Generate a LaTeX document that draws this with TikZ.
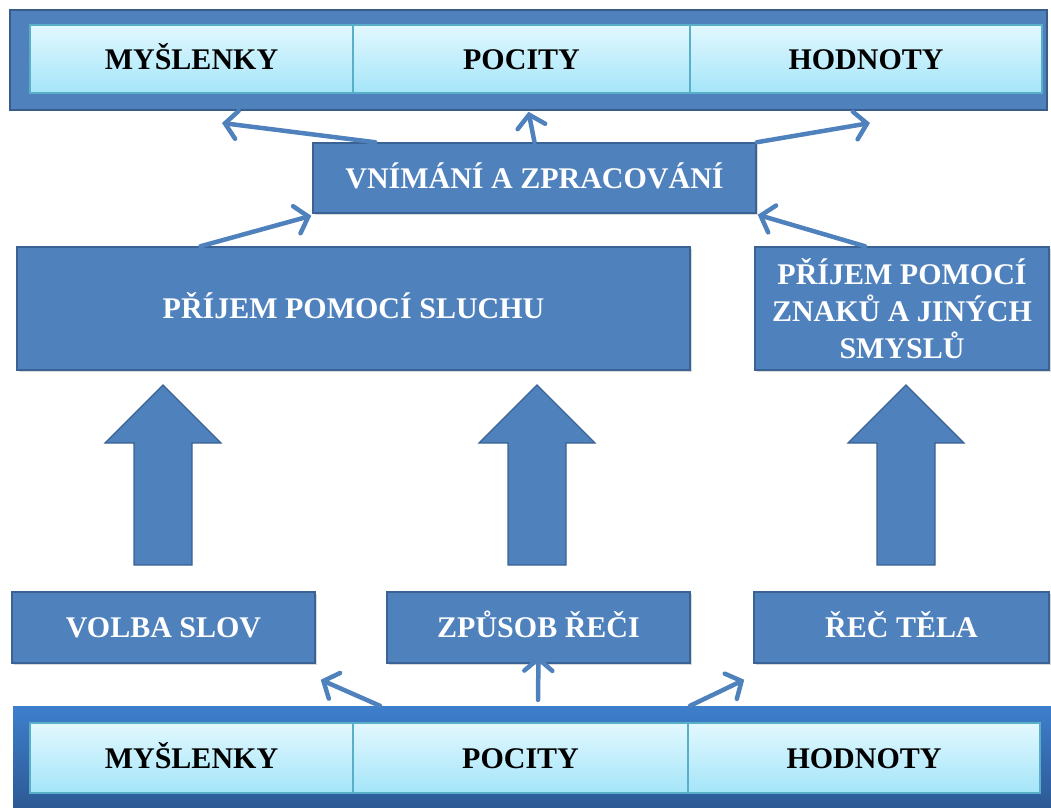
\documentclass[tikz,border=0pt]{standalone}
\usepackage{fontspec}
\setmainfont{Liberation Serif}
\usetikzlibrary{arrows.meta,calc,shadows}
\definecolor{boxblue}{HTML}{4F81BD}
\definecolor{boxedge}{HTML}{3A6294}
\definecolor{cellTop}{HTML}{E2F8FE}
\definecolor{cellBot}{HTML}{A4E5F9}
\definecolor{cellEdge}{HTML}{5AAFC8}
\definecolor{bandTop}{HTML}{3E7FCC}
\definecolor{bandBot}{HTML}{2D5A95}
\definecolor{frameEdge}{HTML}{385D8A}

% block arrow pointing up: centre x, tip y, foot y
\newcommand\blockUp[3]{%
  \draw[blockarrow] (#1-29,#3) -- (#1-29,#2+58) -- (#1-58,#2+58) -- (#1,#2)
    -- (#1+58,#2+58) -- (#1+29,#2+58) -- (#1+29,#3) -- cycle;}

\begin{document}
\begin{tikzpicture}[x=1pt,y=-1pt,
  labelfont/.style={font=\fontsize{30}{37}\selectfont\bfseries},
  oneline/.style={text height=20pt,text depth=0pt},
  softshadow/.style={drop shadow={opacity=0.3,shadow xshift=1.5pt,shadow yshift=-2pt}},
  box/.style={draw=boxedge,line width=1.5pt,fill=boxblue,text=white,labelfont,
    align=center,inner sep=0pt,softshadow},
  frame/.style={draw=frameEdge,line width=1.5pt,fill=boxblue,inner sep=0pt},
  band/.style={draw=none,top color=bandTop,bottom color=bandBot,inner sep=0pt},
  cell/.style={draw=cellEdge,line width=1.2pt,top color=cellTop,bottom color=cellBot,
    text=black,labelfont,oneline,inner sep=0pt,minimum height=68pt},
  link/.style={draw=boxblue,line width=4.5pt,line cap=round,
    -{Straight Barb[length=12pt,width=28pt,line cap=round]}},
  blockarrow/.style={draw=boxedge,line width=1.2pt,fill=boxblue,line join=miter}
]
\useasboundingbox (0,0) rectangle (1051,807);

% upper band of three headings
\node[frame,minimum width=1037pt,minimum height=100pt] (topframe) at (528.5,60) {};
\node[cell,minimum width=323pt] (t1) at (191.5,59) {MYŠLENKY};
\node[cell,minimum width=337pt] (t2) at (521.5,59) {POCITY};
\node[cell,minimum width=352pt] (t3) at (866,59) {HODNOTY};

% lower band of three headings
\node[band,minimum width=1038pt,minimum height=101pt] (botframe) at (532,756.5) {};
\node[cell,minimum width=323pt,minimum height=70pt] (b1) at (191.5,758) {MYŠLENKY};
\node[cell,minimum width=335pt,minimum height=70pt] (b2) at (520.5,758) {POCITY};
\node[cell,minimum width=352pt,minimum height=70pt] (b3) at (864,758) {HODNOTY};

% processing box
\node[box,oneline,minimum width=443pt,minimum height=70pt] (vnim) at (534.5,178) {VNÍMÁNÍ A ZPRACOVÁNÍ};

% reception boxes
\node[box,oneline,minimum width=673pt,minimum height=123pt] (sluch) at (353.5,308.5) {PŘÍJEM POMOCÍ SLUCHU};
\node[box,minimum width=294pt,minimum height=123pt] (znaky) at (902,308.5)
  {PŘÍJEM POMOCÍ\\ZNAKŮ A JINÝCH\\SMYSLŮ};

% channel boxes
\node[box,oneline,minimum width=303pt,minimum height=71pt] (volba) at (163.5,627.5) {VOLBA SLOV};
\node[box,oneline,minimum width=303pt,minimum height=71pt] (zpusob) at (538.5,627.5) {ZPŮSOB ŘEČI};
\node[box,oneline,minimum width=295pt,minimum height=71pt] (telo) at (901.5,627.5) {ŘEČ TĚLA};

% wide block arrows between channels and reception
\blockUp{163}{385}{565}
\blockUp{537}{385}{565}
\blockUp{906}{385}{565}

% free ends of the upper fan
\coordinate (upL) at (222,123);
\coordinate (upR) at (870,123);

% upper fan of thin arrows
\draw[link] ([xshift=63pt]vnim.north west) -- (upL);
\draw[link] (vnim.north) -- ([yshift=-1pt]topframe.south);
\draw[link] (vnim.north east) -- (upR);
\draw[link] ([xshift=-153pt]sluch.north) -- ([xshift=-1pt,yshift=-2pt]vnim.south west);
\draw[link] ([xshift=-37pt]znaky.north) -- ([xshift=1pt,yshift=-1pt]vnim.south east);

% lower fan of thin arrows
\draw[link] ([xshift=-152pt]botframe.north) -- ([xshift=5pt,yshift=-16pt]volba.south east);
\draw[link] ([xshift=6pt,yshift=6pt]botframe.north) -- ([yshift=8pt]zpusob.south);
\draw[link] ([xshift=158pt]botframe.north) -- ([xshift=-9pt,yshift=-16pt]telo.south west);
\end{tikzpicture}
\end{document}
